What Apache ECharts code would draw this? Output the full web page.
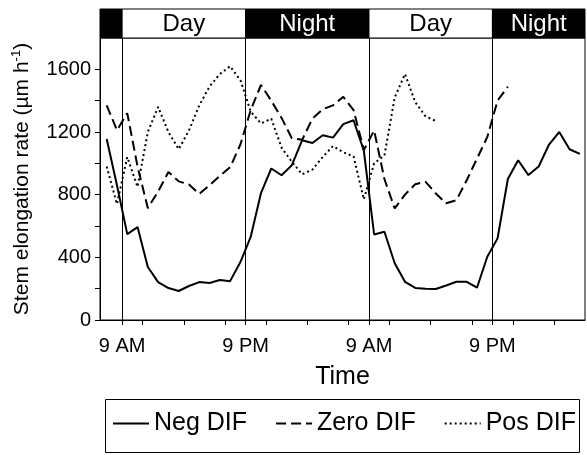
<!DOCTYPE html>
<html><head><meta charset="utf-8">
<script src="https://cdn.jsdelivr.net/npm/echarts@6/dist/echarts.min.js"></script>
<style>html,body{margin:0;padding:0;background:#fff}#c{width:587px;height:455px}</style>
</head><body><div id="c"></div>
<script>
const hours = [7.5, 8.5, 9.5, 10.5, 11.5, 12.5, 13.5, 14.5, 15.5, 16.5, 17.5, 18.5, 19.5, 20.5, 21.5, 22.5,
  23.5, 24.5, 25.5, 26.5, 27.5, 28.5, 29.5, 30.5, 31.5, 32.5, 33.5, 34.5, 35.5, 36.5, 37.5, 38.5,
  39.5, 40.5, 41.5, 42.5, 43.5, 44.5, 45.5, 46.5, 47.5, 48.5, 49.5, 50.5, 51.5, 52.5, 53.5];
const negDIF = [1155, 860, 548, 593, 338, 242, 204, 185, 217, 242, 236, 255, 248, 370, 530, 810,
  967, 924, 988, 1147, 1130, 1179, 1164, 1250, 1275, 1080, 546, 563, 362, 244, 205, 200,
  198, 220, 244, 244, 206, 404, 521, 900, 1020, 925, 980, 1120, 1200, 1090, 1060];
const zeroDIF = [1370, 1211, 1320, 980, 714, 820, 945, 885, 865, 805, 860, 920, 975, 1120, 1340, 1500,
  1400, 1290, 1160, 1150, 1285, 1345, 1370, 1425, 1340, 1085, 1210, 900, 712, 800, 867, 882,
  807, 745, 765, 892, 1030, 1168, 1400, 1490];
const posDIF = [980, 740, 1040, 850, 1200, 1360, 1200, 1090, 1210, 1370, 1490, 1570, 1620, 1530, 1330, 1255,
  1285, 1100, 1010, 930, 960, 1040, 1110, 1070, 1045, 770, 1000, 1050, 1420, 1570, 1390, 1300, 1270];

const xMin = 6.85, xMax = 54;
const periodStart = [xMin, 9, 21, 33, 45];
const periodEnd = [9, 21, 33, 45, xMax];
const periodLabel = ['', 'Day', 'Night', 'Day', 'Night'];
const periodDark = [1, 0, 1, 0, 1];

const xLabelHours = [9, 21, 33, 45];
const xLabelText = ['9 AM', '9 PM', '9 AM', '9 PM'];
const xTickHours = [9, 11, 15, 19, 21, 23, 27, 31, 33, 35, 39, 43, 45, 47, 51];
const yLabelValues = [0, 400, 800, 1200, 1600];
const yTickValues = [0, 200, 400, 600, 800, 1000, 1200, 1400, 1600];
const seriesNames = ['Neg DIF', 'Zero DIF', 'Pos DIF'];

const FONT = "'Liberation Sans', Arial, sans-serif";
const pair = (vals) => vals.map((v, i) => [hours[i], v]);

const chart = echarts.init(document.getElementById('c'), null, {renderer: 'canvas'});
chart.setOption({
  animation: false,
  backgroundColor: '#fff',
  textStyle: {fontFamily: FONT, color: '#000'},
  graphic: [
    {type: 'rect', left: 103, top: 397, z: 0, silent: true,
     shape: {width: 474, height: 53}, style: {fill: 'none', stroke: '#000', lineWidth: 1}}
  ],
  grid: [
    {left: 100, right: 2, top: 38, bottom: 135, show: true, borderColor: '#000', borderWidth: 1, containLabel: false},
    {left: 100, right: 2, top: 9, height: 29, show: false, containLabel: false}
  ],
  xAxis: [
    {
      type: 'value', gridIndex: 0, min: xMin, max: xMax,
      name: 'Time', nameLocation: 'middle', nameGap: 45,
      nameTextStyle: {fontSize: 25, fontFamily: FONT, color: '#000'},
      axisLine: {show: true, lineStyle: {color: '#000', width: 1}},
      axisTick: {show: true, inside: false, length: 5, lineStyle: {color: '#000'}, customValues: xTickHours},
      axisLabel: {
        show: true, margin: 16, fontSize: 20, fontFamily: FONT, color: '#000',
        customValues: xLabelHours,
        formatter: (v) => { const i = xLabelHours.indexOf(v); return i >= 0 ? xLabelText[i] : ''; }
      },
      splitLine: {show: false}
    },
    {type: 'value', gridIndex: 1, min: xMin, max: xMax, show: false}
  ],
  yAxis: [
    {
      type: 'value', gridIndex: 0, min: 0, max: 1800,
      name: 'Stem elongation rate (µm h{sup|-1})', nameLocation: 'middle', nameGap: 60, nameRotate: 90,
      nameTextStyle: {
        fontSize: 21, fontFamily: FONT, color: '#000', lineHeight: 26,
        rich: {sup: {fontSize: 13, fontFamily: FONT, color: '#000', verticalAlign: 'top', lineHeight: 26}}
      },
      axisLine: {show: true, lineStyle: {color: '#000', width: 1}},
      axisTick: {show: true, inside: false, length: 5, lineStyle: {color: '#000'}, customValues: yTickValues},
      axisLabel: {show: true, margin: 9, fontSize: 20, fontFamily: FONT, color: '#000',
        customValues: yLabelValues, formatter: (v) => String(v)},
      splitLine: {show: false}
    },
    {type: 'value', gridIndex: 1, min: 0, max: 1, show: false}
  ],
  legend: {
    data: seriesNames,
    left: 112, top: 411,
    orient: 'horizontal',
    padding: 0,
    itemGap: 28, itemWidth: 36, itemHeight: 14,
    itemStyle: {opacity: 0, borderWidth: 0, color: 'rgba(0,0,0,0)'},
    textStyle: {fontSize: 25, fontFamily: FONT, color: '#000'}
  },
  series: [
    {
      name: 'Neg DIF', type: 'line', xAxisIndex: 0, yAxisIndex: 0,
      data: pair(negDIF), symbol: 'none', showSymbol: false,
      lineStyle: {color: '#000', width: 2, type: 'solid'}, itemStyle: {color: '#000'},
      markLine: {
        silent: true, symbol: ['none', 'none'], label: {show: false},
        lineStyle: {color: '#000', width: 1, type: 'solid'},
        data: xLabelHours.map((h) => ({xAxis: h}))
      },
      z: 3
    },
    {
      name: 'Zero DIF', type: 'line', xAxisIndex: 0, yAxisIndex: 0,
      data: pair(zeroDIF), symbol: 'none', showSymbol: false,
      lineStyle: {color: '#000', width: 2, type: [10, 5]}, itemStyle: {color: '#000'}, z: 3
    },
    {
      name: 'Pos DIF', type: 'line', xAxisIndex: 0, yAxisIndex: 0,
      data: pair(posDIF), symbol: 'none', showSymbol: false,
      lineStyle: {color: '#000', width: 2, type: [2, 3]}, itemStyle: {color: '#000'}, z: 3
    },
    {
      type: 'custom', xAxisIndex: 1, yAxisIndex: 1, silent: true,
      data: periodStart.map((s, i) => [s, periodEnd[i], periodDark[i], i]),
      encode: {x: [0, 1]},
      renderItem: (params, api) => {
        const i = api.value(3);
        const p0 = api.coord([api.value(0), 1]);
        const p1 = api.coord([api.value(1), 0]);
        const dark = api.value(2) === 1;
        return {
          type: 'group',
          children: [
            {type: 'rect', shape: {x: p0[0], y: p0[1], width: p1[0] - p0[0], height: p1[1] - p0[1]},
             style: {fill: dark ? '#000' : '#fff', stroke: '#000', lineWidth: 1}},
            {type: 'text', style: {text: periodLabel[i], x: (p0[0] + p1[0]) / 2, y: (p0[1] + p1[1]) / 2 + 1,
             align: 'center', verticalAlign: 'middle', fill: dark ? '#fff' : '#000', font: '24px ' + FONT}}
          ]
        };
      }
    }
  ]
});
</script></body></html>
